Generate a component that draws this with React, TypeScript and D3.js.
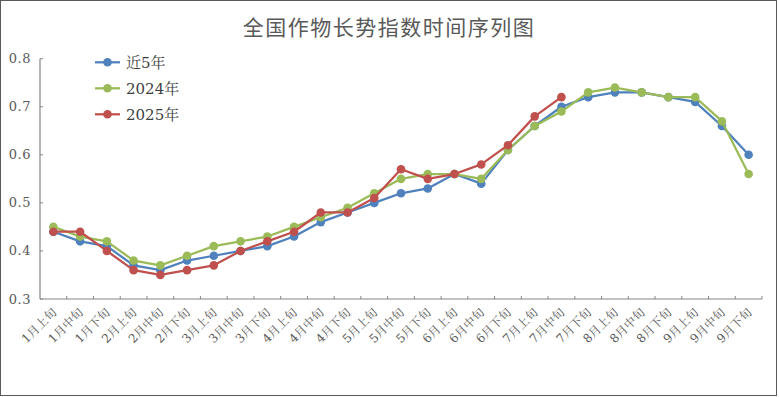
import React from "react";
import * as d3 from "d3";

const categories = [
  "1月上旬","1月中旬","1月下旬","2月上旬","2月中旬","2月下旬","3月上旬","3月中旬","3月下旬",
  "4月上旬","4月中旬","4月下旬","5月上旬","5月中旬","5月下旬","6月上旬","6月中旬","6月下旬",
  "7月上旬","7月中旬","7月下旬","8月上旬","8月中旬","8月下旬","9月上旬","9月中旬","9月下旬",
];
const recent5 = [0.44,0.42,0.41,0.37,0.36,0.38,0.39,0.40,0.41,0.43,0.46,0.48,0.50,0.52,0.53,0.56,0.54,0.61,0.66,0.70,0.72,0.73,0.73,0.72,0.71,0.66,0.60];
const y2024 = [0.45,0.43,0.42,0.38,0.37,0.39,0.41,0.42,0.43,0.45,0.47,0.49,0.52,0.55,0.56,0.56,0.55,0.61,0.66,0.69,0.73,0.74,0.73,0.72,0.72,0.67,0.56];
const y2025 = [0.44,0.44,0.40,0.36,0.35,0.36,0.37,0.40,0.42,0.44,0.48,0.48,0.51,0.57,0.55,0.56,0.58,0.62,0.68,0.72];
const yTicks = [0.3,0.4,0.5,0.6,0.7,0.8];
const seriesNames = ["近5年","2024年","2025年"];
const title = "全国作物长势指数时间序列图";

const W = 779, H = 397;
const colors = ["#4F81BD", "#9BBB59", "#C0504D"];
const font = "DejaVu Serif, Liberation Serif, Noto Serif CJK SC, Noto Sans CJK SC, serif";

export default function App() {
  const left = 40, right = 762, top = 58.7, bottom = 299;
  const x = d3.scaleBand<string>().domain(categories).range([left, right]);
  const y = d3.scaleLinear().domain([0.3, 0.8]).range([bottom, top]);
  const cx = (c: string) => (x(c) as number) + x.bandwidth() / 2;
  const series = [recent5, y2024, y2025];
  const line = d3.line<number>().x((_, i) => cx(categories[i])).y((v) => y(v));

  return (
    <svg width={W} height={H} style={{ position: "absolute", left: 0, top: 0, background: "#fff" }}>
      <rect x={0.5} y={0.5} width={776} height={395} fill="#fff" stroke="#595959" strokeWidth={1} />
      <text x={389} y={35} textAnchor="middle" fontSize={21} fill="#595959" letterSpacing={1.5}
        style={{ fontFamily: "Noto Sans CJK SC, sans-serif" }}>{title}</text>

      {/* axes */}
      <line x1={left} x2={left} y1={top} y2={bottom} stroke="#868686" strokeWidth={1.2} />
      <line x1={left} x2={right} y1={bottom} y2={bottom} stroke="#868686" strokeWidth={1.2} />
      {yTicks.map((t) => (
        <g key={t}>
          <line x1={left} x2={left + 3} y1={y(t)} y2={y(t)} stroke="#868686" />
          <text x={31} y={y(t) + 4.5} textAnchor="end" fontSize={13} fill="#595959" letterSpacing={0.5}
            style={{ fontFamily: font }}>
            {t.toFixed(1)}
          </text>
        </g>
      ))}
      {categories.map((c, i) => (
        <line key={"t" + i} x1={(x(c) as number) + x.bandwidth()} x2={(x(c) as number) + x.bandwidth()}
          y1={bottom} y2={bottom - 3} stroke="#868686" />
      ))}
      {categories.map((c) => (
        <text key={c} transform={`translate(${cx(c) + 4},${bottom + 14}) rotate(-45)`} textAnchor="end"
          fontSize={12} fill="#595959" style={{ fontFamily: font }}>{c}</text>
      ))}

      {series.map((s, k) => (
        <g key={k}>
          <path d={line(s) || ""} fill="none" stroke={colors[k]} strokeWidth={2.25} strokeLinejoin="round" />
          {s.map((v, i) => (
            <circle key={i} cx={cx(categories[i])} cy={y(v)} r={4.3} fill={colors[k]} />
          ))}
        </g>
      ))}

      {/* legend */}
      {seriesNames.map((n, k) => {
        const ly = 62.3 + k * 26;
        return (
          <g key={n}>
            <line x1={95} x2={120} y1={ly} y2={ly} stroke={colors[k]} strokeWidth={2.25} />
            <circle cx={107.5} cy={ly} r={4.3} fill={colors[k]} />
            <text x={126} y={ly + 5.5} fontSize={15} fill="#404040" style={{ fontFamily: font }}>{n}</text>
          </g>
        );
      })}
    </svg>
  );
}
